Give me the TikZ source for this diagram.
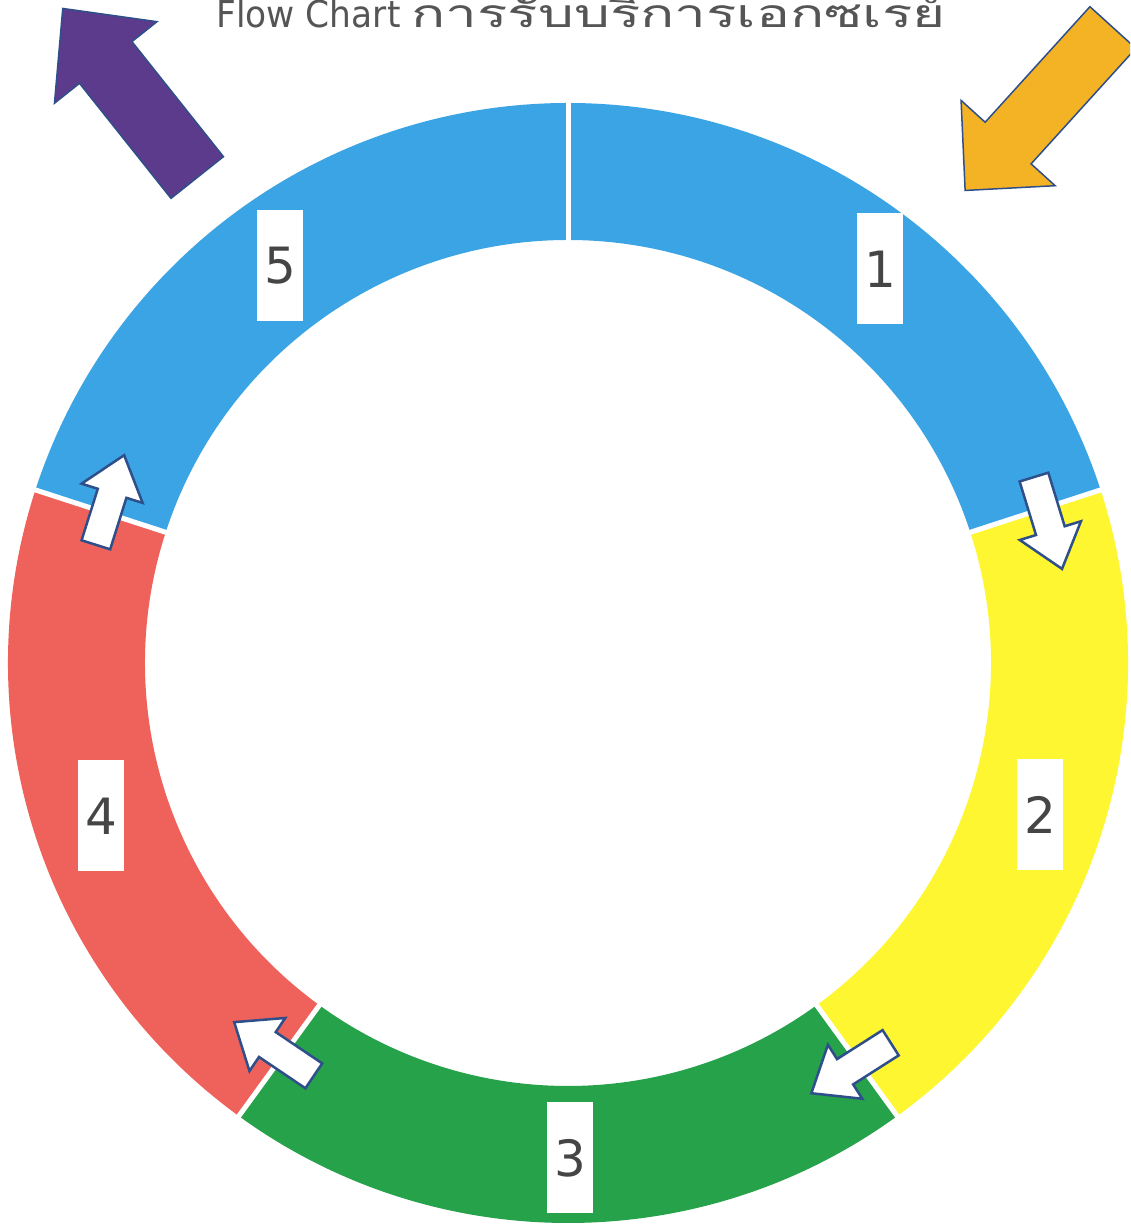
\documentclass[tikz,border=0pt]{standalone}
\usepackage{fontspec}
\setmainfont{DejaVu Sans}
\newfontfamily\titlefont[FakeStretch=0.93]{DejaVu Sans}
\newfontfamily\thaifont[Script=Thai, FakeStretch=1.45]{Loma}
\usetikzlibrary{calc}
\definecolor{segblue}{HTML}{3BA4E4}
\definecolor{segyellow}{HTML}{FDF631}
\definecolor{seggreen}{HTML}{25A24A}
\definecolor{segred}{HTML}{EF625B}
\definecolor{bigpurple}{HTML}{5C3B8D}
\definecolor{bigorange}{HTML}{F4B324}
\definecolor{arrowline}{HTML}{2E4F8A}
\definecolor{titlegray}{HTML}{555555}
\definecolor{numgray}{HTML}{454545}
\tikzset{
  pics/blockarrow/.style n args={4}{code={
    \filldraw[pic actions] ({-#1/2},{-#2/2}) -- ({#1/2-#4},{-#2/2}) -- ({#1/2-#4},{-#3/2})
      -- ({#1/2},0) -- ({#1/2-#4},{#3/2}) -- ({#1/2-#4},{#2/2}) -- ({-#1/2},{#2/2}) -- cycle;
  }},
  smallarrow/.style={fill=white, draw=arrowline, line width=2.5pt, line join=miter},
  bigarrow/.style={draw=arrowline, line width=1.5pt, line join=miter},
  numbox/.style={fill=white, minimum width=46pt, minimum height=111pt, inner sep=0pt,
    text=numgray, font=\fontsize{50}{54}\selectfont},
  gapline/.style={white, line width=5pt}
}
\begin{document}
\begin{tikzpicture}[x=1pt,y=1pt]
\useasboundingbox (0,0) rectangle (1130,1225);
\begin{scope}
\clip (0,0) rectangle (1130,1225);
\fill[white] (0,0) rectangle (1130,1225);
\coordinate (C) at (568,562);
% ring segments
\foreach \a/\b/\c in {18/90/segblue, -54/18/segyellow, -126/-54/seggreen, -198/-126/segred, 90/162/segblue}{
  \fill[\c] ($(C)+(\a:560)$) arc[start angle=\a, end angle=\b, radius=560]
    -- ($(C)+(\b:423)$) arc[start angle=\b, end angle=\a, radius=423] -- cycle;
}
% white gaps between segments
\foreach \t in {90,18,-54,-126,162}{
  \draw[gapline] ($(C)+(\t:415)$) -- ($(C)+(\t:570)$);
}
% labels
\node[numbox] (n1) at (880,956) {1};
\node[numbox] (n2) at (1040,410) {2};
\node[numbox] (n3) at (570,67) {3};
\node[numbox] (n4) at (101,409) {4};
\node[numbox] (n5) at (280,959) {5};
% small flow arrows
\pic[smallarrow, rotate=-73] at (1048,702) {blockarrow={96}{30}{64}{40}};
\pic[smallarrow, rotate=-147.5] at (851,157) {blockarrow={94}{30}{64}{40}};
\pic[smallarrow, rotate=146] at (274,176) {blockarrow={96}{30}{64}{40}};
\pic[smallarrow, rotate=72.5] at (110,725) {blockarrow={94}{30}{64}{40}};
% big arrows
\pic[bigarrow, fill=bigpurple, rotate=128.5] at (130,1132) {blockarrow={216}{67}{131}{69}};
\pic[bigarrow, fill=bigorange, rotate=-132.2] at (1039,1116) {blockarrow={220}{62}{127}{64}};
% title
\node[anchor=base, text=titlegray, font=\titlefont\fontsize{37}{42}\selectfont, inner sep=0pt] (title)
  at (581,1197) {Flow Chart {\thaifont\fontsize{39}{44}\selectfont การรับบริการเอกซเรย์}};
\end{scope}
\end{tikzpicture}
\end{document}
